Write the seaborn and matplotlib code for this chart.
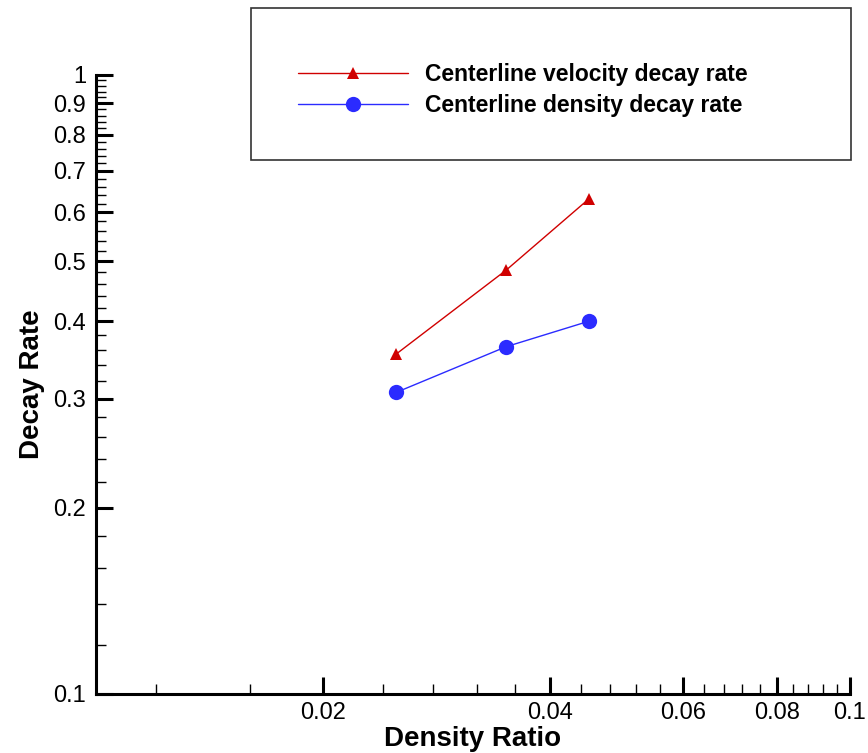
import numpy as np
import pandas as pd
import matplotlib
matplotlib.use("Agg")
import matplotlib.pyplot as plt
import seaborn as sns
from matplotlib.ticker import FixedLocator, FixedFormatter, NullFormatter
from matplotlib.patches import Rectangle

density_ratio = [0.025, 0.035, 0.045]
velocity_decay = [0.354, 0.484, 0.630]
density_decay = [0.307, 0.364, 0.400]
series_names = ["Centerline velocity decay rate", "Centerline density decay rate"]

x_major = [0.02, 0.04, 0.06, 0.08, 0.1]
x_major_labels = ["0.02", "0.04", "0.06", "0.08", "0.1"]
y_major = [0.1, 0.2, 0.3, 0.4, 0.5, 0.6, 0.7, 0.8, 0.9, 1.0]
y_major_labels = ["0.1", "0.2", "0.3", "0.4", "0.5", "0.6", "0.7", "0.8", "0.9", "1"]

sns.set_style("white")
plt.rcParams["font.family"] = ["Liberation Sans", "DejaVu Sans"]
plt.rcParams["text.color"] = "black"
plt.rcParams["axes.labelcolor"] = "black"
plt.rcParams["xtick.color"] = "black"
plt.rcParams["ytick.color"] = "black"

df = pd.DataFrame({
    "x": density_ratio * 2,
    "y": velocity_decay + density_decay,
    "series": [series_names[0]] * 3 + [series_names[1]] * 3,
})

fig = plt.figure(figsize=(8.68, 7.53), dpi=100)
ax = fig.add_axes([96 / 868, 1 - 694 / 753, (850 - 96) / 868, (694 - 75) / 753])

sns.lineplot(data=df[df.series == series_names[0]], x="x", y="y", ax=ax,
             color="#d00000", marker="^", markersize=9, markeredgewidth=0,
             linewidth=1, label=series_names[0])
sns.lineplot(data=df[df.series == series_names[1]], x="x", y="y", ax=ax,
             color="#2b2bff", marker="o", markersize=11, markeredgewidth=0,
             linewidth=1, label=series_names[1])

ax.set_xscale("log")
ax.set_yscale("log")
ax.set_xlim(0.01, 0.1)
ax.set_ylim(0.1, 1.0)

ax.xaxis.set_major_locator(FixedLocator(x_major))
ax.xaxis.set_major_formatter(FixedFormatter(x_major_labels))
x_minor = [v for v in np.round(np.arange(0.012, 0.0999, 0.004), 3) if not any(abs(v - m) < 1e-6 for m in x_major)]
ax.xaxis.set_minor_locator(FixedLocator(x_minor))
ax.xaxis.set_minor_formatter(NullFormatter())

ax.yaxis.set_major_locator(FixedLocator(y_major))
ax.yaxis.set_major_formatter(FixedFormatter(y_major_labels))
y_minor = [v for v in np.round(np.arange(0.12, 0.999, 0.02), 2) if not any(abs(v - m) < 1e-6 for m in y_major)]
ax.yaxis.set_minor_locator(FixedLocator(y_minor))
ax.yaxis.set_minor_formatter(NullFormatter())

for s in ["top", "right"]:
    ax.spines[s].set_visible(False)
for s in ["left", "bottom"]:
    ax.spines[s].set_linewidth(2.2)
    ax.spines[s].set_color("black")

ax.tick_params(axis="both", which="both", bottom=True, left=True, top=False, right=False)
ax.tick_params(axis="both", which="major", direction="in", length=12, width=2.2,
               labelsize=17, colors="black")
ax.tick_params(axis="both", which="minor", direction="in", length=7, width=1, colors="black")
ax.tick_params(axis="x", which="major", pad=6)
ax.tick_params(axis="y", which="major", pad=7)

ax.set_xlabel("Density Ratio", fontsize=20, fontweight="bold", labelpad=1)
ax.set_ylabel("Decay Rate", fontsize=20, fontweight="bold", labelpad=6)
ax.grid(False)

ax.get_legend().remove()
handles, labels = ax.get_legend_handles_labels()
fig.patches.append(Rectangle((251 / 868, 1 - 160 / 753), 600 / 868, 152 / 753,
                             transform=fig.transFigure, fill=False,
                             edgecolor="#333333", linewidth=1.2))
fig.legend(handles, labels, loc="upper left", bbox_to_anchor=(298 / 868, 1 - 63 / 753),
           frameon=False, borderpad=0, borderaxespad=0,
           handlelength=4.8, handletextpad=0.75, labelspacing=0.35,
           prop={"weight": "bold", "size": 16.5})

fig.savefig("out.png", dpi=100)
